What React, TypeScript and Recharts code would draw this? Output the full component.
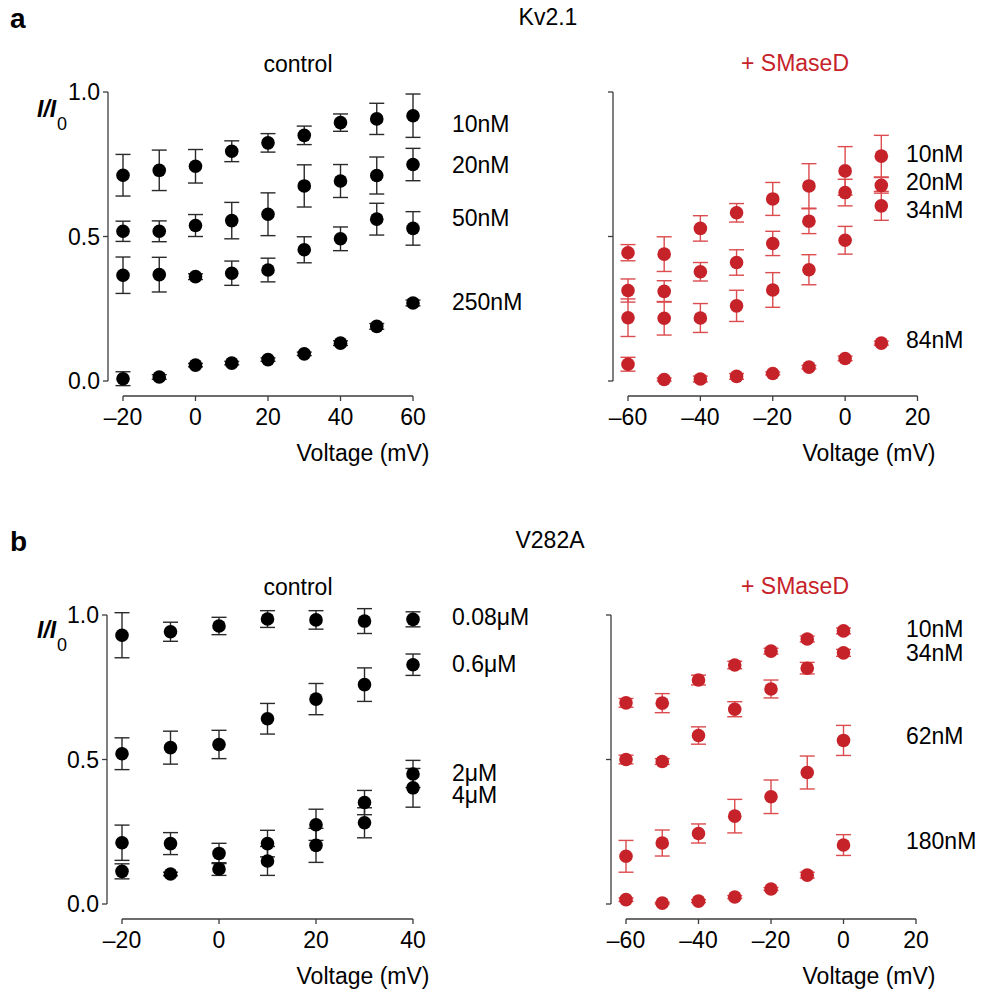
import React from 'react';
import { ScatterChart, Scatter, XAxis, YAxis, ErrorBar } from 'recharts';

// ---------- data ----------
const voltA_ctrl = [-20, -10, 0, 10, 20, 30, 40, 50, 60];
const ctrlA_10nM = [0.712, 0.729, 0.743, 0.795, 0.824, 0.85, 0.894, 0.907, 0.918];
const ctrlA_10nM_err = [0.072, 0.07, 0.058, 0.036, 0.032, 0.032, 0.03, 0.054, 0.075];
const ctrlA_20nM = [0.518, 0.518, 0.538, 0.555, 0.577, 0.675, 0.692, 0.711, 0.749];
const ctrlA_20nM_err = [0.035, 0.036, 0.038, 0.063, 0.074, 0.073, 0.057, 0.064, 0.056];
const ctrlA_50nM = [0.366, 0.368, 0.361, 0.373, 0.384, 0.454, 0.492, 0.56, 0.528];
const ctrlA_50nM_err = [0.063, 0.06, 0.01, 0.042, 0.041, 0.045, 0.041, 0.055, 0.058];
const ctrlA_250nM = [0.008, 0.014, 0.055, 0.062, 0.074, 0.094, 0.131, 0.189, 0.27];
const ctrlA_250nM_err = [0.024, 0.008, 0.006, 0.006, 0.006, 0.006, 0.008, 0.01, 0.01];

const voltA_sm = [-60, -50, -40, -30, -20, -10, 0, 10];
const smA_10nM = [0.444, 0.439, 0.528, 0.582, 0.63, 0.675, 0.727, 0.778];
const smA_10nM_err = [0.028, 0.06, 0.044, 0.032, 0.057, 0.077, 0.084, 0.072];
const smA_20nM = [0.313, 0.31, 0.378, 0.41, 0.476, 0.553, 0.652, 0.677];
const smA_20nM_err = [0.04, 0.037, 0.032, 0.044, 0.042, 0.043, 0.046, 0.027];
const smA_34nM = [0.219, 0.217, 0.218, 0.26, 0.315, 0.385, 0.487, 0.606];
const smA_34nM_err = [0.065, 0.058, 0.05, 0.054, 0.06, 0.052, 0.048, 0.05];
const smA_84nM = [0.058, 0.005, 0.007, 0.016, 0.026, 0.048, 0.078, 0.131];
const smA_84nM_err = [0.024, 0.005, 0.01, 0.01, 0.005, 0.006, 0.008, 0.007];

const voltB_ctrl = [-20, -10, 0, 10, 20, 30, 40];
const ctrlB_008uM = [0.93, 0.942, 0.962, 0.986, 0.983, 0.979, 0.985];
const ctrlB_008uM_err = [0.078, 0.033, 0.03, 0.029, 0.032, 0.043, 0.026];
const ctrlB_06uM = [0.52, 0.541, 0.552, 0.641, 0.709, 0.759, 0.828];
const ctrlB_06uM_err = [0.055, 0.057, 0.049, 0.053, 0.054, 0.058, 0.037];
const ctrlB_2uM = [0.212, 0.209, 0.175, 0.209, 0.274, 0.351, 0.45];
const ctrlB_2uM_err = [0.061, 0.038, 0.035, 0.046, 0.054, 0.042, 0.047];
const ctrlB_4uM = [0.113, 0.104, 0.121, 0.149, 0.203, 0.281, 0.402];
const ctrlB_4uM_err = [0.026, 0.006, 0.022, 0.05, 0.059, 0.052, 0.067];

const voltB_sm = [-60, -50, -40, -30, -20, -10, 0];
const smB_10nM = [0.696, 0.695, 0.775, 0.827, 0.875, 0.917, 0.945];
const smB_10nM_err = [0.015, 0.033, 0.017, 0.013, 0.01, 0.01, 0.01];
const smB_34nM = [0.5, 0.493, 0.583, 0.674, 0.744, 0.816, 0.869];
const smB_34nM_err = [0.015, 0.01, 0.03, 0.026, 0.031, 0.02, 0.012];
const smB_62nM = [0.165, 0.211, 0.244, 0.304, 0.371, 0.455, 0.566];
const smB_62nM_err = [0.055, 0.045, 0.033, 0.058, 0.058, 0.057, 0.052];
const smB_180nM = [0.015, 0.003, 0.01, 0.024, 0.052, 0.1, 0.204];
const smB_180nM_err = [0.006, 0.003, 0.005, 0.005, 0.005, 0.01, 0.036];

const yTicks = [0, 0.5, 1];
const xTicksA_ctrl = [-20, 0, 20, 40, 60];
const xTicksSm = [-60, -40, -20, 0, 20];
const xTicksB_ctrl = [-20, 0, 20, 40];

// ---------- style ----------
const FONT = '"Liberation Sans", Arial, Helvetica, sans-serif';
const OFF = 15;
const AXIS = '#3c3c3c';
const BLACK = '#000000';
const BLACK_BAR = '#2a2a2a';
const RED = '#c6222a';
const RED_BAR = '#dc4b4e';
const FS = 23;

const build = (v: number[], y: number[], e: number[]) => v.map((x, i) => ({ v: x, y: y[i], err: e[i] }));

const fmtX = (n: number) => (n < 0 ? '\u2013' + Math.abs(n) : String(n));

const XTick = (props: any) => {
  const { x, y, payload } = props;
  return (
    <text x={x} y={y + OFF + 24} textAnchor="middle" fontSize={FS} fontFamily={FONT} fill="#000">
      {fmtX(payload.value)}
    </text>
  );
};
const YTick = (props: any) => {
  const { x, y, payload } = props;
  return (
    <text x={x - OFF - 3} y={y + 8} textAnchor="end" fontSize={FS} fontFamily={FONT} fill="#000">
      {Number(payload.value).toFixed(1)}
    </text>
  );
};
const NoTick = () => <g />;

type S = { data: { v: number; y: number; err: number }[] };

function Panel(props: {
  plotX0: number; plotY0: number; plotX1: number; plotY1: number;
  xDomain: [number, number]; xTicks: number[]; series: S[];
  dot: string; bar: string; yLabels: boolean;
}) {
  const { plotX0, plotY0, plotX1, plotY1, xDomain, xTicks, series, dot, bar, yLabels } = props;
  const yW = 60, xH = 70, m = 14;
  const plotW = plotX1 - plotX0;
  const plotH = plotY1 - plotY0;
  const width = m + yW + plotW + m;
  const height = m + plotH + xH + m;
  const left = plotX0 - yW - m;
  const top = plotY0 - m;
  const Dot = (p: any) => <circle cx={p.cx} cy={p.cy} r={6.8} fill={dot} />;
  return (
    <div style={{ position: 'absolute', left, top, width, height }}>
      <ScatterChart width={width} height={height} margin={{ top: m, right: m, bottom: m, left: m }}>
        <XAxis
          type="number"
          dataKey="v"
          domain={xDomain}
          ticks={xTicks}
          allowDataOverflow
          height={xH}
          tickSize={5}
          tickMargin={0}
          axisLine={{ stroke: AXIS, strokeWidth: 1.3, transform: `translate(0, ${OFF})` } as any}
          tickLine={{ stroke: AXIS, strokeWidth: 1.3, transform: `translate(0, ${OFF})` } as any}
          tick={<XTick />}
        />
        <YAxis
          type="number"
          dataKey="y"
          domain={[0, 1]}
          ticks={yTicks}
          allowDataOverflow
          width={yW}
          tickSize={5}
          tickMargin={0}
          axisLine={{ stroke: AXIS, strokeWidth: 1.3, transform: `translate(${-OFF}, 0)` } as any}
          tickLine={{ stroke: AXIS, strokeWidth: 1.3, transform: `translate(${-OFF}, 0)` } as any}
          tick={yLabels ? <YTick /> : <NoTick />}
        />
        {series.map((s, i) => (
          <Scatter key={i} data={s.data} shape={<Dot />} isAnimationActive={false}>
            <ErrorBar dataKey="err" direction="y" width={7.5} stroke={bar} strokeWidth={1.4} isAnimationActive={false} />
          </Scatter>
        ))}
      </ScatterChart>
    </div>
  );
}

const T = (p: { x: number; y: number; children: any; anchor?: string; color?: string; size?: number; weight?: string }) => (
  <text
    x={p.x}
    y={p.y}
    textAnchor={(p.anchor as any) || 'start'}
    fontSize={p.size || FS}
    fontWeight={p.weight || 'normal'}
    fontFamily={FONT}
    fill={p.color || '#000'}
  >
    {p.children}
  </text>
);

const IoverI0 = ({ y }: { y: number }) => (
  <g>
    <text x={37} y={y} fontSize={23} fontStyle="italic" fontWeight="bold" fontFamily={FONT} fill="#000">I/I</text>
    <text x={57} y={y + 13} fontSize={18} fontFamily={FONT} fill="#000">0</text>
  </g>
);

export default function App() {
  const DY = 523;
  return (
    <div style={{ position: 'absolute', left: 0, top: 0, width: 982, height: 994, background: '#fff', overflow: 'hidden' }}>
      <style>{'[clip-path]{clip-path:none !important;}'}</style>
      <Panel
        plotX0={123} plotY0={92} plotX1={413} plotY1={381}
        xDomain={[-20, 60]} xTicks={xTicksA_ctrl}
        series={[
          { data: build(voltA_ctrl, ctrlA_10nM, ctrlA_10nM_err) },
          { data: build(voltA_ctrl, ctrlA_20nM, ctrlA_20nM_err) },
          { data: build(voltA_ctrl, ctrlA_50nM, ctrlA_50nM_err) },
          { data: build(voltA_ctrl, ctrlA_250nM, ctrlA_250nM_err) },
        ]}
        dot={BLACK} bar={BLACK_BAR} yLabels
      />
      <Panel
        plotX0={627.5} plotY0={92} plotX1={917} plotY1={381}
        xDomain={[-60, 20]} xTicks={xTicksSm}
        series={[
          { data: build(voltA_sm, smA_10nM, smA_10nM_err) },
          { data: build(voltA_sm, smA_20nM, smA_20nM_err) },
          { data: build(voltA_sm, smA_34nM, smA_34nM_err) },
          { data: build(voltA_sm, smA_84nM, smA_84nM_err) },
        ]}
        dot={RED} bar={RED_BAR} yLabels={false}
      />
      <Panel
        plotX0={122} plotY0={615} plotX1={413} plotY1={904}
        xDomain={[-20, 40]} xTicks={xTicksB_ctrl}
        series={[
          { data: build(voltB_ctrl, ctrlB_008uM, ctrlB_008uM_err) },
          { data: build(voltB_ctrl, ctrlB_06uM, ctrlB_06uM_err) },
          { data: build(voltB_ctrl, ctrlB_2uM, ctrlB_2uM_err) },
          { data: build(voltB_ctrl, ctrlB_4uM, ctrlB_4uM_err) },
        ]}
        dot={BLACK} bar={BLACK_BAR} yLabels
      />
      <Panel
        plotX0={626} plotY0={615} plotX1={916} plotY1={904}
        xDomain={[-60, 20]} xTicks={xTicksSm}
        series={[
          { data: build(voltB_sm, smB_10nM, smB_10nM_err) },
          { data: build(voltB_sm, smB_34nM, smB_34nM_err) },
          { data: build(voltB_sm, smB_62nM, smB_62nM_err) },
          { data: build(voltB_sm, smB_180nM, smB_180nM_err) },
        ]}
        dot={RED} bar={RED_BAR} yLabels={false}
      />
      <svg width={982} height={994} style={{ position: 'absolute', left: 0, top: 0, pointerEvents: 'none' }}>
        {/* panel a */}
        <T x={10} y={28} size={28} weight="bold">a</T>
        <T x={548} y={25} anchor="middle">Kv2.1</T>
        <T x={298} y={72} anchor="middle">control</T>
        <T x={795} y={71} anchor="middle" color={RED}>+ SMaseD</T>
        <IoverI0 y={117} />
        <T x={452} y={132}>10nM</T>
        <T x={452} y={173}>20nM</T>
        <T x={452} y={226}>50nM</T>
        <T x={452} y={310}>250nM</T>
        <T x={906} y={162}>10nM</T>
        <T x={906} y={190}>20nM</T>
        <T x={906} y={218}>34nM</T>
        <T x={906} y={348}>84nM</T>
        <T x={363} y={461} anchor="middle">Voltage (mV)</T>
        <T x={869} y={461} anchor="middle">Voltage (mV)</T>
        {/* panel b */}
        <T x={10} y={28 + DY} size={28} weight="bold">b</T>
        <T x={550} y={25 + DY} anchor="middle">V282A</T>
        <T x={298} y={72 + DY} anchor="middle">control</T>
        <T x={795} y={71 + DY} anchor="middle" color={RED}>+ SMaseD</T>
        <IoverI0 y={638} />
        <T x={452} y={625}>0.08μM</T>
        <T x={452} y={672}>0.6μM</T>
        <T x={452} y={781}>2μM</T>
        <T x={452} y={803}>4μM</T>
        <T x={906} y={637}>10nM</T>
        <T x={906} y={661}>34nM</T>
        <T x={906} y={744}>62nM</T>
        <T x={906} y={849}>180nM</T>
        <T x={363} y={461 + DY} anchor="middle">Voltage (mV)</T>
        <T x={869} y={461 + DY} anchor="middle">Voltage (mV)</T>
      </svg>
    </div>
  );
}
